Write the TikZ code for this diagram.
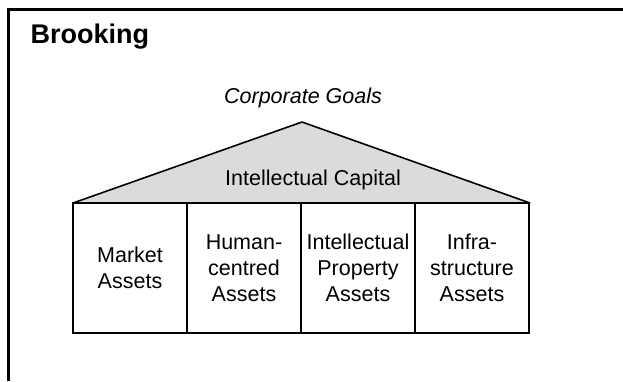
\documentclass[tikz,border=0pt]{standalone}
\usepackage{xcolor}
\usepackage{tikz}
\usepackage{fontspec}
\setmainfont{Liberation Sans}

\definecolor{roofgray}{gray}{0.86}

\tikzset{
    assetbox/.style={draw, line width=1.8pt, minimum width=114pt, minimum height=130pt,
        align=center, inner sep=0pt, font=\fontsize{21.5}{26}\selectfont},
    roof/.style={draw, fill=roofgray, line width=1.6pt, line join=bevel}
}

\begin{document}
\begin{tikzpicture}[x=1pt,y=-1pt]
            \useasboundingbox (0,0) rectangle (623,381);
            \draw [line width=3pt] (623,9.5) -- (8.5,9.5) -- (8.5,381);

            \node [anchor=west, font=\fontsize{27}{32}\selectfont\bfseries] (title) at (27,37) {Brooking};
            \node [font=\fontsize{21.5}{26}\selectfont\itshape] (goals) at (303,98) {Corporate Goals};

            % roof
            \coordinate (apex) at (302,122);
            \draw [roof] (73,203) -- (apex) -- (530,203) -- cycle;
            \node [font=\fontsize{21.5}{26}\selectfont] (capital) at (313,180) {Intellectual Capital};

            % the four pillars
            \node [assetbox] (market) at (130,268) {Market\\Assets};
            \node [assetbox] (human) at (244,268) {Human-\\centred\\Assets};
            \node [assetbox] (property) at (358,268) {Intellectual\\Property\\Assets};
            \node [assetbox] (infra) at (472,268) {Infra-\\structure\\Assets};

        \end{tikzpicture}
\end{document}
